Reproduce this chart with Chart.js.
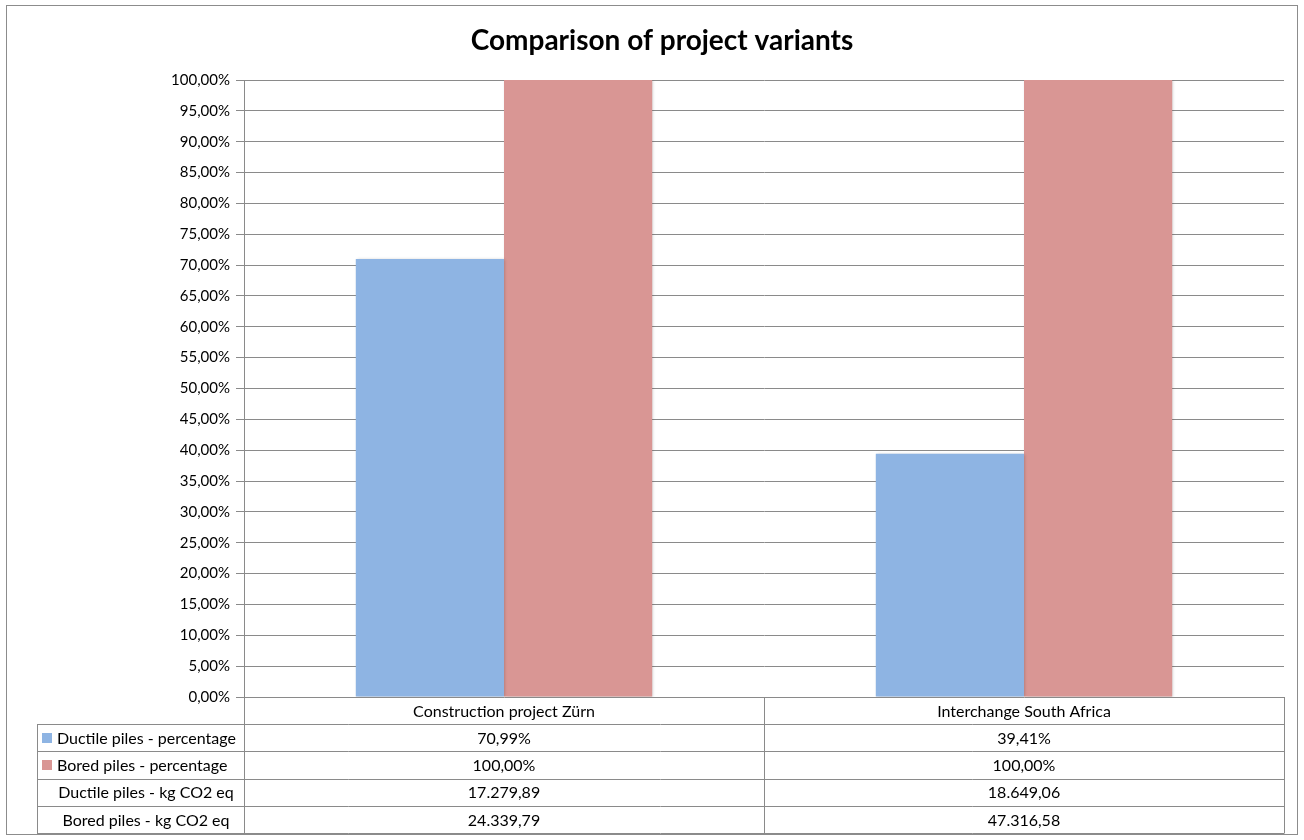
<!DOCTYPE html>
<html lang="en">
<head>
<meta charset="UTF-8">
<title>Comparison of project variants</title>
<script src="https://cdn.jsdelivr.net/npm/chart.js"></script>
<style>
  html, body { margin:0; padding:0; background:#fff; }
  #wrap { width:1304px; height:840px; position:relative; }
</style>
</head>
<body>
<div id="wrap"><canvas id="chart" width="1304" height="840"></canvas></div>
<script>
// data
const categories = ['Construction project Zürn', 'Interchange South Africa'];
const ductilePct = [70.99, 39.41];
const boredPct = [100.00, 100.00];
const ductileCO2 = [17279.89, 18649.06];
const boredCO2 = [24339.79, 47316.58];
const seriesNames = ['Ductile piles - percentage', 'Bored piles - percentage',
                     'Ductile piles - kg CO2 eq', 'Bored piles - kg CO2 eq'];
const chartTitle = 'Comparison of project variants';

const BLUE = '#8EB4E3', RED = '#D99694', GRID = '#8a8a8a';
const FONT = 'Lato, Carlito, Calibri, sans-serif';

function pct(v) { return v.toFixed(2).replace('.', ',') + '%'; }
function num(v) {
  const [i, d] = v.toFixed(2).split('.');
  return i.replace(/\B(?=(\d{3})+(?!\d))/g, '.') + ',' + d;
}

// rows of the data table under the plot
const tableRows = [
  { label: seriesNames[0], key: BLUE, values: ductilePct.map(pct) },
  { label: seriesNames[1], key: RED, values: boredPct.map(pct) },
  { label: seriesNames[2], key: null, values: ductileCO2.map(num) },
  { label: seriesNames[3], key: null, values: boredCO2.map(num) }
];

const dataTable = {
  id: 'dataTable',
  beforeDatasetsDraw(chart) {
    const c = chart.ctx;
    c.save();
    c.shadowColor = 'rgba(0,0,0,0.22)';
    c.shadowBlur = 3;
    c.shadowOffsetX = 1;
  },
  afterDatasetsDraw(chart) { chart.ctx.restore(); },
  afterDraw(chart) {
    const c = chart.ctx, area = chart.chartArea, xs = chart.scales.x;
    const left = 37, rowH = 27.2, top = area.bottom;
    const n = categories.length;
    const catW = (area.right - area.left) / n;
    c.save();
    // title
    c.fillStyle = '#000';
    c.font = 'bold 28px ' + FONT;
    c.textAlign = 'center';
    c.textBaseline = 'alphabetic';
    c.fillText(chartTitle, 662, 50);

    c.strokeStyle = GRID;
    c.lineWidth = 1;
    // horizontal lines
    for (let r = 1; r <= tableRows.length + 1; r++) {
      const y = Math.round(top + r * rowH) + 0.5;
      c.beginPath(); c.moveTo(left, y); c.lineTo(area.right, y); c.stroke();
    }
    // vertical lines
    const bottom = Math.round(top + (tableRows.length + 1) * rowH) + 0.5;
    c.beginPath();
    c.moveTo(left + 0.5, Math.round(top + rowH) + 0.5); c.lineTo(left + 0.5, bottom);
    for (let i = 0; i <= n; i++) {
      const x = Math.round(area.left + i * catW) + 0.5;
      c.moveTo(x, top); c.lineTo(x, bottom);
    }
    c.stroke();
    // text
    c.fillStyle = '#000';
    c.font = '16px ' + FONT;
    c.textAlign = 'center';
    c.textBaseline = 'middle';
    categories.forEach((cat, i) => {
      c.fillText(cat, xs.getPixelForValue(i), top + rowH / 2 + 1);
    });
    tableRows.forEach((row, r) => {
      const yc = top + (r + 1.5) * rowH + 1;
      if (row.key) {
        c.fillStyle = row.key;
        c.fillRect(42, Math.round(yc - 6), 10, 10);
        c.fillStyle = '#000';
        c.textAlign = 'left';
        c.fillText(row.label, 57, yc);
      } else {
        c.fillStyle = '#000';
        c.textAlign = 'center';
        c.fillText(row.label, 146, yc);
      }
      c.textAlign = 'center';
      row.values.forEach((v, i) => c.fillText(v, xs.getPixelForValue(i), yc));
    });
    // outer frame
    c.strokeStyle = '#8c8c8c';
    c.strokeRect(6.5, 5.5, 1291, 829);
    c.restore();
  }
};

new Chart(document.getElementById('chart'), {
  type: 'bar',
  data: {
    labels: categories,
    datasets: [
      { label: seriesNames[0], data: ductilePct, backgroundColor: BLUE },
      { label: seriesNames[1], data: boredPct, backgroundColor: RED }
    ]
  },
  options: {
    responsive: false,
    animation: false,
    layout: { padding: { top: 80, left: 0, right: 20, bottom: 143 } },
    categoryPercentage: 0.57,
    barPercentage: 1.0,
    plugins: {
      legend: { display: false },
      tooltip: { enabled: false },
      title: { display: false }
    },
    scales: {
      x: {
        grid: { display: false },
        border: { display: false },
        ticks: { display: false },
        afterFit(s) { s.height = 0; }
      },
      y: {
        min: 0, max: 100,
        ticks: {
          stepSize: 5,
          color: '#000',
          font: { family: FONT, size: 15 },
          padding: 6,
          callback: v => pct(v)
        },
        grid: { color: GRID, tickLength: 8, lineWidth: 1 },
        border: { color: GRID },
        afterFit(s) { s.width = 244; }
      }
    }
  },
  plugins: [dataTable]
});
</script>
</body>
</html>
